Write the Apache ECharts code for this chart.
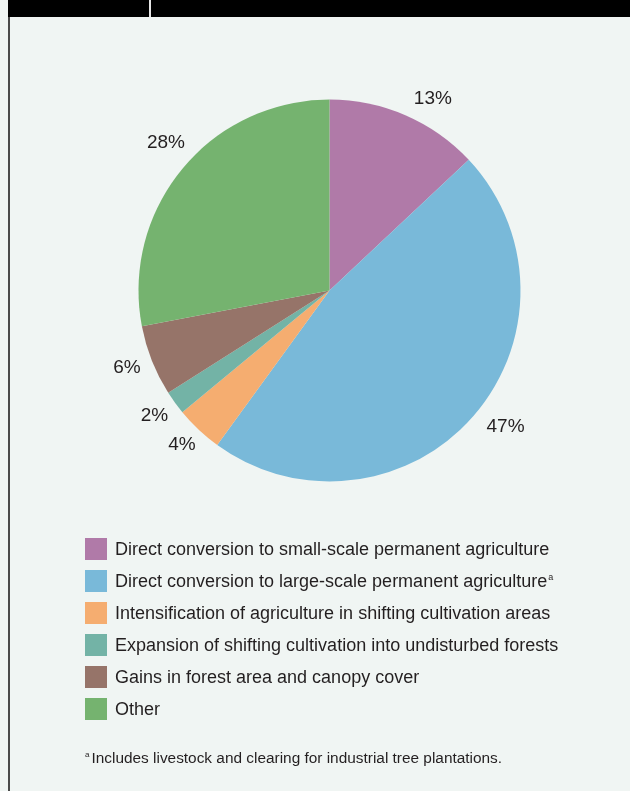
<!DOCTYPE html>
<html>
<head>
<meta charset="utf-8">
<script src="https://cdn.jsdelivr.net/npm/echarts@6/dist/echarts.min.js"></script>
<style>
  html, body { margin: 0; padding: 0; background: #f0f5f3; }
  #chart { width: 630px; height: 791px; }
</style>
</head>
<body>
<div id="chart"></div>
<script>
// Drivers of forest area change, share of total (%)
const categories = [
  'Direct conversion to small-scale permanent agriculture',
  'Direct conversion to large-scale permanent agriculture',
  'Intensification of agriculture in shifting cultivation areas',
  'Expansion of shifting cultivation into undisturbed forests',
  'Gains in forest area and canopy cover',
  'Other'
];
const shares = [13, 47, 4, 2, 6, 28];
const sliceColors = ['#b07aa8', '#79b9d9', '#f5ad70', '#73b3a6', '#967469', '#75b36f'];
// small nudges for the percentage labels so they sit clear of the rim
const labelNudges = [[16, 10], [11, -9], [3, -6], [3, -4], [2, -4], [6, -8]];
const footnote = 'Includes livestock and clearing for industrial tree plantations.';
const footnotedCategory = 1;

const FONT = '"Liberation Sans", Arial, Helvetica, sans-serif';
const TEXT = '#231f20';
const CENTER = [329.5, 290.5];

const chart = echarts.init(document.getElementById('chart'), null, { renderer: 'canvas' });

const pieData = categories.map((name, i) => ({
  name,
  value: shares[i],
  itemStyle: { color: sliceColors[i] }
}));

const labelData = categories.map((name, i) => ({
  name,
  value: shares[i],
  label: { offset: labelNudges[i] }
}));

chart.setOption({
  backgroundColor: '#f0f5f3',
  animation: false,
  title: {
    text: '{sup|a}{t|' + footnote + '}',
    left: 85,
    top: 751,
    padding: 0,
    textStyle: {
      fontWeight: 'normal',
      rich: {
        sup: { fontFamily: FONT, fontSize: 8, fontWeight: 'normal', color: TEXT, padding: [0, 2, 8, 0] },
        t: { fontFamily: FONT, fontSize: 15.4, fontWeight: 'normal', color: TEXT }
      }
    }
  },
  legend: {
    orient: 'vertical',
    left: 85,
    top: 538,
    padding: 0,
    itemWidth: 22,
    itemHeight: 22,
    itemGap: 10,
    icon: 'rect',
    selectedMode: false,
    data: categories,
    formatter: name => categories.indexOf(name) === footnotedCategory ? name + '{sup|a}' : name,
    textStyle: {
      fontFamily: FONT,
      fontSize: 18,
      color: TEXT,
      padding: [2, 0, 0, 3],
      rich: {
        sup: { fontFamily: FONT, fontSize: 9, color: TEXT, padding: [0, 0, 9, 1] }
      }
    }
  },
  graphic: [
    { type: 'rect', left: 8, top: 0, shape: { width: 622, height: 17 }, style: { fill: '#000' }, silent: true },
    { type: 'rect', left: 149, top: 0, shape: { width: 2, height: 17 }, style: { fill: '#e6e6e6' }, silent: true },
    { type: 'rect', left: 8, top: 17, shape: { width: 2, height: 774 }, style: { fill: '#4a4a4a' }, silent: true }
  ],
  series: [
    {
      type: 'pie',
      center: CENTER,
      radius: 191,
      startAngle: 90,
      clockwise: true,
      silent: true,
      label: { show: false },
      labelLine: { show: false },
      itemStyle: { borderWidth: 0 },
      data: pieData
    },
    {
      // transparent ring that carries the percentage labels around the pie
      type: 'pie',
      center: CENTER,
      radius: [200, 234],
      startAngle: 90,
      clockwise: true,
      silent: true,
      legendHoverLink: false,
      itemStyle: { color: 'rgba(0,0,0,0)', borderWidth: 0 },
      labelLine: { show: false },
      label: {
        show: true,
        position: 'inside',
        formatter: '{c}%',
        fontFamily: FONT,
        fontSize: 19,
        color: TEXT
      },
      data: labelData
    }
  ]
});
</script>
</body>
</html>
